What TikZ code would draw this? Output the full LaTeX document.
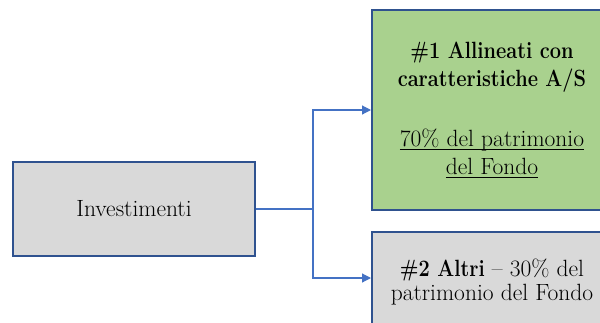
\documentclass[tikz,border=0pt]{standalone}
\usetikzlibrary{arrows.meta}
\definecolor{boxborder}{HTML}{2F528F}
\definecolor{conncol}{HTML}{4472C4}
\definecolor{greenfill}{HTML}{A9D18E}
\definecolor{grayfill}{HTML}{D9D9D9}
\newcommand\myuline[1]{\setbox0\hbox{#1}\rlap{\rule[-4pt]{\wd0}{1pt}}\box0}
\newcommand\mybold[1]{\scalebox{0.85}[1]{\textbf{#1}}}
\begin{document}
\begin{tikzpicture}[x=1pt,y=-1pt,
  boxstyle/.style={draw=boxborder,line width=2pt,rectangle,inner sep=0pt,align=center,text=black},
  conn/.style={draw=conncol,line width=1.2pt},
  arr/.style={conn,-{Triangle[length=9pt,width=9pt]}}]
\useasboundingbox (0,0) rectangle (600,322);
\clip (0,0) rectangle (600,322);
\node[boxstyle,fill=grayfill,minimum width=242pt,minimum height=94pt,
  font=\fontsize{23.5}{28}\selectfont] (inv) at (134,209) {Investimenti};
\node[boxstyle,fill=greenfill,minimum width=240pt,minimum height=200pt,
  font=\fontsize{23.5}{28}\selectfont] (green) at (492,110)
  {\mybold{\#1 Allineati con}\\\mybold{caratteristiche A/S}\\[32pt]\myuline{70\% del patrimonio}\\\myuline{del Fondo}};
\node[boxstyle,fill=grayfill,minimum width=240pt,minimum height=100pt,
  font=\fontsize{23.5}{24.5}\selectfont] (other) at (492,282)
  {\mybold{\#2 Altri} -- 30\% del\\patrimonio del Fondo};
\coordinate (j) at (313,209);
\draw[conn] (inv.east) -- (j);
\draw[arr] (j) |- (green.west);
\draw[arr] (j) |- ([yshift=4pt]other.west);
\end{tikzpicture}
\end{document}
